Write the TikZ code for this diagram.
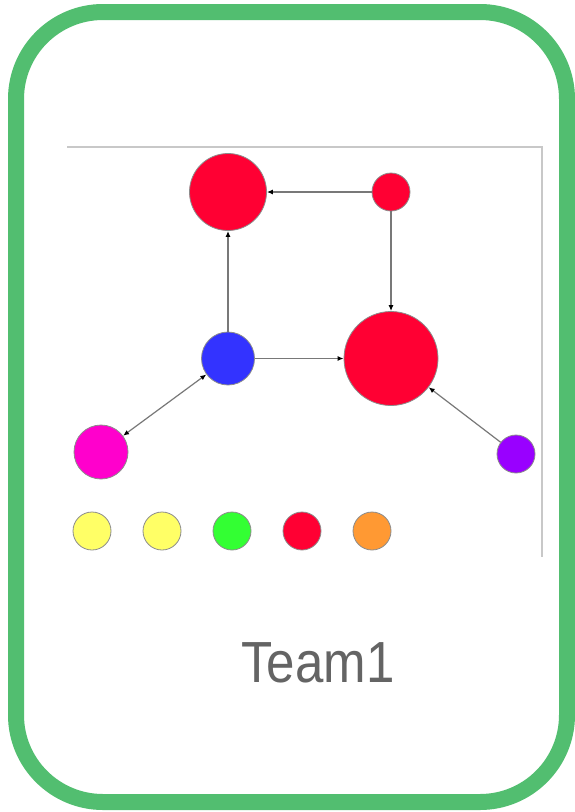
\documentclass[tikz,border=0pt]{standalone}
\usepackage{fontspec}
\setmainfont{Liberation Sans}
\usetikzlibrary{arrows.meta}
\definecolor{frameg}{RGB}{82,190,112}
\definecolor{cred}{RGB}{255,0,51}
\definecolor{cblue}{RGB}{51,51,255}
\definecolor{cmag}{RGB}{255,0,204}
\definecolor{cpurp}{RGB}{153,0,255}
\definecolor{cyel}{RGB}{255,255,102}
\definecolor{cgreen}{RGB}{51,255,51}
\definecolor{corange}{RGB}{255,153,51}
\definecolor{axisg}{RGB}{200,200,200}
\definecolor{edgeg}{RGB}{120,120,120}
\definecolor{textg}{RGB}{100,100,100}
\tikzset{
  vert/.style={circle, inner sep=0pt, draw=black!45, line width=0.8pt},
  tipstyle/.style={},
  link/.style={draw=edgeg, line width=1.2pt, -{Latex[length=6pt,width=5pt,fill=black,color=black]}},
  blink/.style={draw=edgeg, line width=1.2pt, {Latex[length=6pt,width=5pt,fill=black,color=black]}-{Latex[length=6pt,width=5pt,fill=black,color=black]}},
}
\begin{document}
\begin{tikzpicture}[x=1pt,y=-1pt]
\useasboundingbox (0,0) rectangle (575,812);
\fill[white] (0,0) rectangle (575,812);
% frame
\draw[frameg, line width=16pt, rounded corners=87pt] (16,12) rectangle (567,802);
% axes lines
\draw[axisg, line width=1.5pt] (67,147) -- (542,147) -- (542,557);
% nodes
\node[vert, fill=cred, minimum size=77pt] (A) at (228,192) {};
\node[vert, fill=cred, minimum size=38pt] (B) at (391,192) {};
\node[vert, fill=cblue, minimum size=53pt] (C) at (228,358.5) {};
\node[vert, fill=cred, minimum size=94pt] (D) at (391,358.5) {};
\node[vert, fill=cmag, minimum size=54pt] (E) at (101,452) {};
\node[vert, fill=cpurp, minimum size=38pt] (F) at (516,454) {};
\node[vert, fill=cyel, minimum size=38pt] (y1) at (92,531) {};
\node[vert, fill=cyel, minimum size=38pt] (y2) at (162,531) {};
\node[vert, fill=cgreen, minimum size=38pt] (g1) at (232,531) {};
\node[vert, fill=cred, minimum size=38pt] (r1) at (302,531) {};
\node[vert, fill=corange, minimum size=38pt] (o1) at (372,531) {};
% edges
\draw[link] (B) -- (A);
\draw[link] (C) -- (A);
\draw[link] (B) -- (D);
\draw[link] (C) -- (D);
\draw[blink] (C) -- (E);
\draw[link] (F) -- (D);
% label
\node[text=textg, font=\fontsize{58}{60}\selectfont, xscale=0.88, anchor=base] (T) at (318,682) {Team1};
\end{tikzpicture}
\end{document}
